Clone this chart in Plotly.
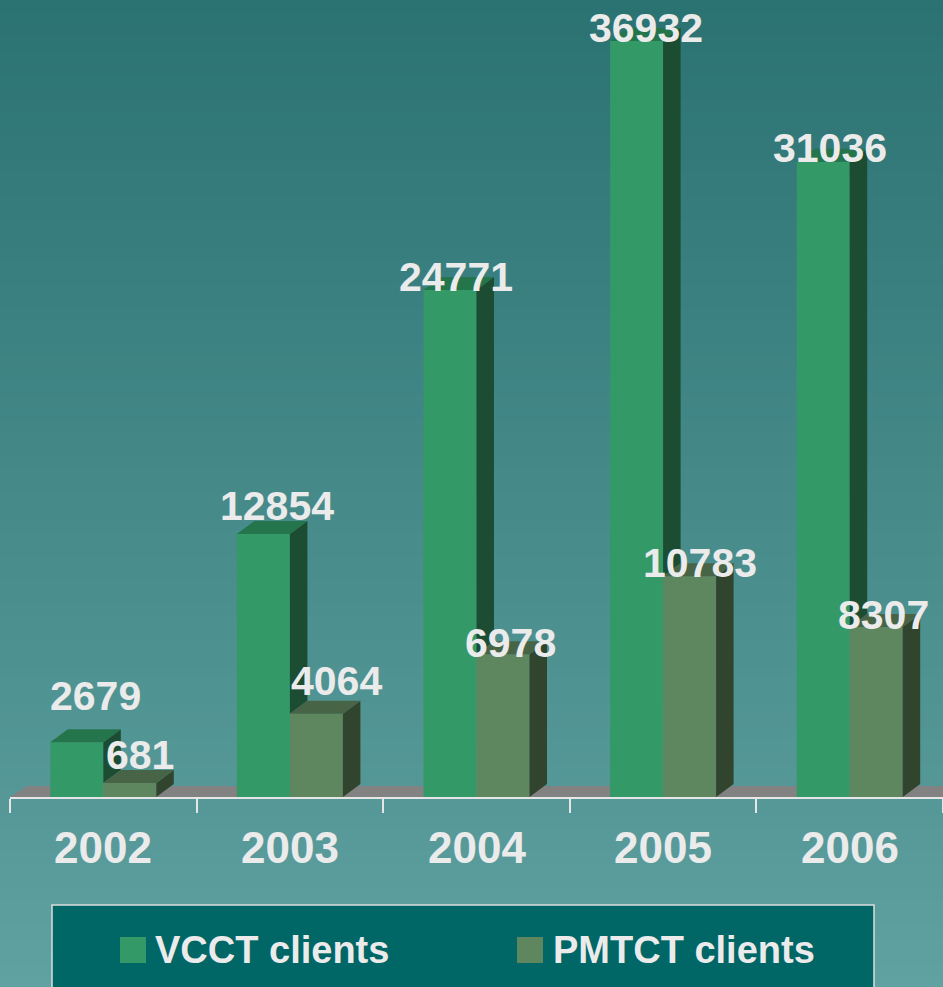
import plotly.graph_objects as go

# ---- data ----
years = ["2002", "2003", "2004", "2005", "2006"]
vcct = [2679, 12854, 24771, 36932, 31036]
pmtct = [681, 4064, 6978, 10783, 8307]
series_names = ["VCCT clients", "PMTCT clients"]

# ---- style ----
W, H = 943, 987
ML, MR, MT, MB = 10, 0, 0, 190
PW, PH = W - ML - MR, H - MT - MB
YMAX = 38935
UNIT_PX = PW / len(years)          # px per category
BAR_W = 0.284                       # category units
DX = 17.5 / UNIT_PX                 # depth offset x (units)
DY = 13 * YMAX / PH                 # depth offset y (units)
FLOOR_DY = 11 * YMAX / PH
FLOOR_DX = 17 / UNIT_PX

TXT = "#EBEBEB"
FONT = "Liberation Sans, Arial, sans-serif"
front = ["#339966", "#5F875F"]
top_c = ["#24744C", "#486446"]
side_c = ["#1C4D33", "#31452E"]

# label offsets (px) : xshift, yshift
lab_vcct = [(19, 46), (14, 28), (6, 13), (9, 13), (7, 14)]
lab_pmtct = [(10, 28), (20, 33), (7, 11), (10, 13), (7, 12)]

x_idx = list(range(len(years)))
fig = go.Figure()

# front faces
fig.add_trace(go.Bar(x=x_idx, y=vcct, offset=-BAR_W, width=BAR_W,
                     marker=dict(color=front[0], line=dict(width=0)),
                     name=series_names[0], showlegend=False, hoverinfo="skip"))
fig.add_trace(go.Bar(x=x_idx, y=pmtct, offset=0, width=BAR_W,
                     marker=dict(color=front[1], line=dict(width=0)),
                     name=series_names[1], showlegend=False, hoverinfo="skip"))


def poly_trace(xs, ys, color):
    fig.add_trace(go.Scatter(x=xs, y=ys, mode="lines", fill="toself",
                             fillcolor=color, line=dict(width=0, color=color),
                             showlegend=False, hoverinfo="skip"))


# VCCT sides (visible part above PMTCT) and tops
sx, sy, tx, ty = [], [], [], []
for i, (v, p) in enumerate(zip(vcct, pmtct)):
    xl, xr = i - BAR_W, i
    sx += [xr, xr, xr + DX, xr + DX, xr, None]
    sy += [p, v, v + DY, p + DY, p, None]
    tx += [xl, xr, xr + DX, xl + DX, xl, None]
    ty += [v, v, v + DY, v + DY, v, None]
poly_trace(sx, sy, side_c[0])
poly_trace(tx, ty, top_c[0])

# PMTCT sides and tops
sx, sy, tx, ty = [], [], [], []
for i, p in enumerate(pmtct):
    xl, xr = i, i + BAR_W
    sx += [xr, xr, xr + DX, xr + DX, xr, None]
    sy += [0, p, p + DY, DY, 0, None]
    tx += [xl, xr, xr + DX, xl + DX, xl, None]
    ty += [p, p, p + DY, p + DY, p, None]
poly_trace(sx, sy, side_c[1])
poly_trace(tx, ty, top_c[1])

# ---- background gradient & floor (shapes) ----
shapes = []
top_rgb = (43, 114, 114)
bot_rgb = (96, 161, 161)
N = 80


def pxx(px):
    return (px - ML) / PW


def pxy(py):
    return (H - MB - py) / PH


for k in range(N):
    t = (k + 0.5) / N
    c = tuple(round(a + (b - a) * t) for a, b in zip(top_rgb, bot_rgb))
    y0 = H * k / N
    y1 = H * (k + 1) / N + 1
    shapes.append(dict(type="rect", xref="paper", yref="paper",
                       x0=pxx(0), x1=pxx(W), y0=pxy(y1), y1=pxy(y0),
                       fillcolor="rgb(%d,%d,%d)" % c, line=dict(width=0),
                       layer="below"))

x0f, x1f = -0.5, len(years) - 0.5
shapes.append(dict(type="path", xref="x", yref="y",
                   path="M %f,0 L %f,0 L %f,%f L %f,%f Z" % (
                       x0f, x1f + FLOOR_DX, x1f + FLOOR_DX, FLOOR_DY, x0f + FLOOR_DX, FLOOR_DY),
                   fillcolor="#828282", line=dict(width=0), layer="below"))

# legend box
shapes.append(dict(type="rect", xref="paper", yref="paper",
                   x0=pxx(52), x1=pxx(874), y0=pxy(995), y1=pxy(905),
                   fillcolor="#006666", line=dict(color="#DDDDDD", width=1.5)))
shapes.append(dict(type="rect", xref="paper", yref="paper",
                   x0=pxx(120), x1=pxx(146), y0=pxy(963), y1=pxy(937),
                   fillcolor=front[0], line=dict(width=0)))
shapes.append(dict(type="rect", xref="paper", yref="paper",
                   x0=pxx(517), x1=pxx(543), y0=pxy(963), y1=pxy(937),
                   fillcolor=front[1], line=dict(width=0)))

annotations = []
for i, (v, p) in enumerate(zip(vcct, pmtct)):
    annotations.append(dict(x=i - BAR_W / 2, y=v, xref="x", yref="y", text=str(v),
                            showarrow=False, xanchor="center", yanchor="middle",
                            xshift=lab_vcct[i][0], yshift=lab_vcct[i][1],
                            font=dict(family=FONT, size=41, color=TXT, weight="bold")))
    annotations.append(dict(x=i + BAR_W / 2, y=p, xref="x", yref="y", text=str(p),
                            showarrow=False, xanchor="center", yanchor="middle",
                            xshift=lab_pmtct[i][0], yshift=lab_pmtct[i][1],
                            font=dict(family=FONT, size=41, color=TXT, weight="bold")))
    annotations.append(dict(x=i, y=0, xref="x", yref="y", text=years[i],
                            showarrow=False, xanchor="center", yanchor="middle",
                            yshift=-50,
                            font=dict(family=FONT, size=44, color=TXT, weight="bold")))

annotations.append(dict(x=pxx(153), y=pxy(950), xref="paper", yref="paper",
                        text=series_names[0], showarrow=False, xanchor="left",
                        yanchor="middle",
                        font=dict(family=FONT, size=38, color=TXT, weight="bold")))
annotations.append(dict(x=pxx(551), y=pxy(950), xref="paper", yref="paper",
                        text=series_names[1], showarrow=False, xanchor="left",
                        yanchor="middle",
                        font=dict(family=FONT, size=38, color=TXT, weight="bold")))

fig.update_layout(
    width=W, height=H,
    margin=dict(l=ML, r=MR, t=MT, b=MB, pad=0),
    paper_bgcolor="rgb(70,137,137)",
    plot_bgcolor="rgba(0,0,0,0)",
    barmode="overlay",
    showlegend=False,
    shapes=shapes,
    annotations=annotations,
    xaxis=dict(range=[x0f, x1f], tickvals=[k - 0.5 for k in range(len(years) + 1)],
               showticklabels=False, ticks="outside", ticklen=14, tickwidth=2,
               tickcolor="#E6E6E6", showline=True, linecolor="#E6E6E6", linewidth=2,
               showgrid=False, zeroline=False, fixedrange=True),
    yaxis=dict(range=[0, YMAX], visible=False, showgrid=False, zeroline=False,
               fixedrange=True),
)

fig.write_html("out.html",
               config={"displayModeBar": False},
               post_script="document.body.style.margin='0';document.body.style.overflow='hidden';")
